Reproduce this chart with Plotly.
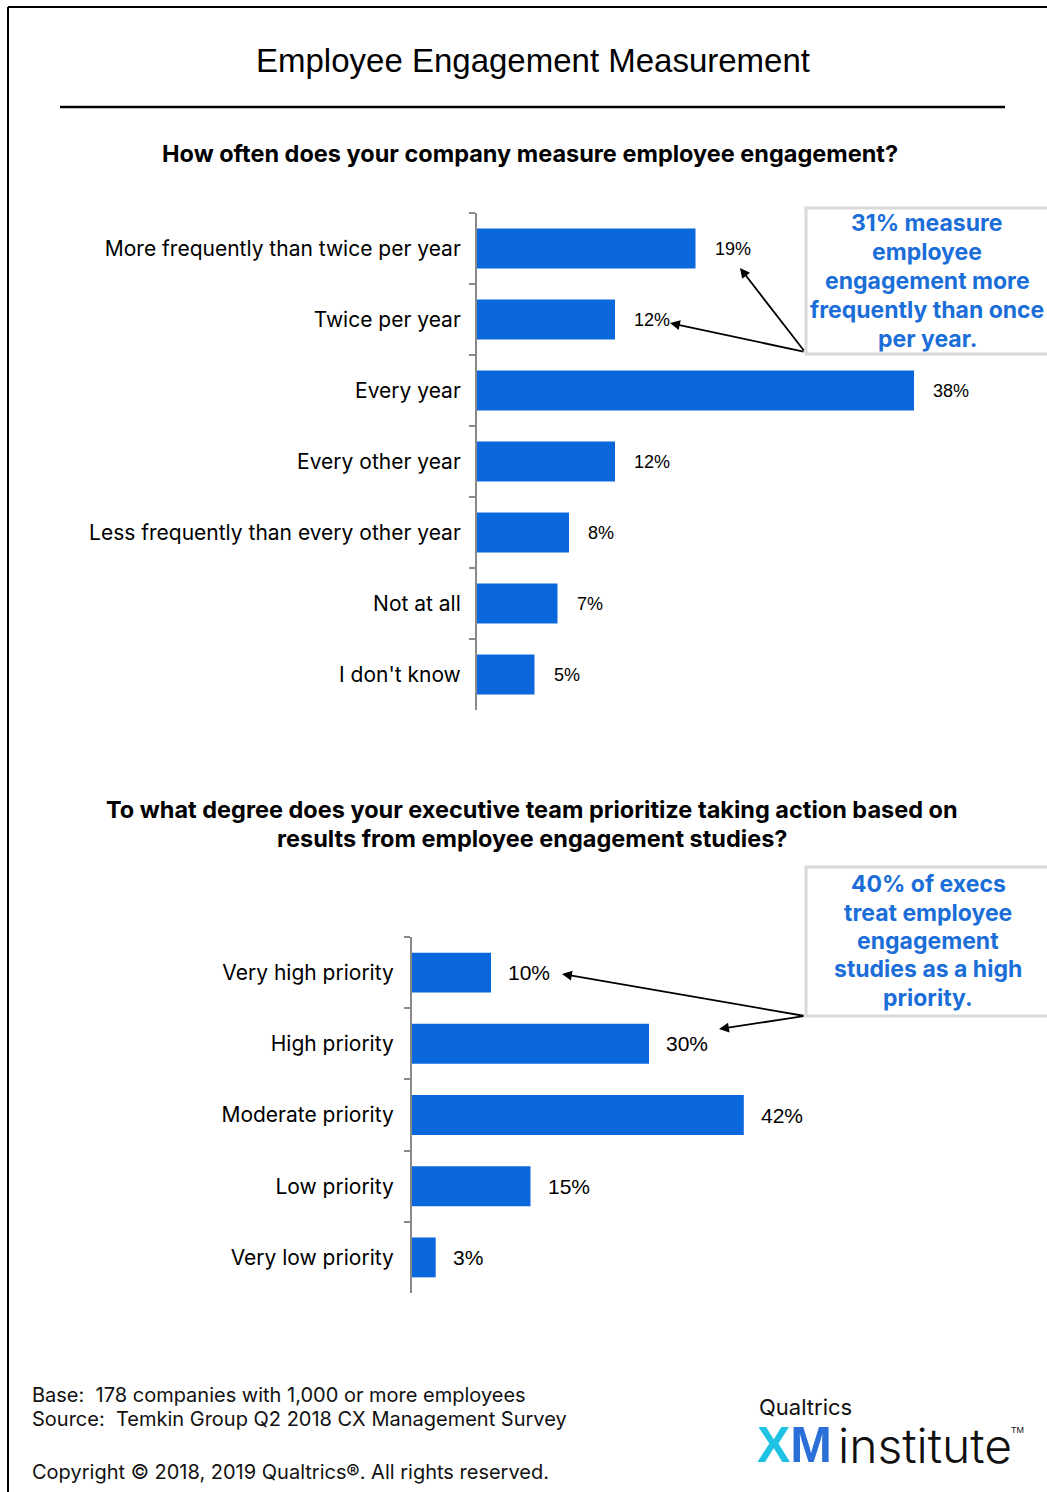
import plotly.graph_objects as go

W, H = 1047, 1492

# Question 1: measurement frequency
freq_labels = [
    "More frequently than twice per year",
    "Twice per year",
    "Every year",
    "Every other year",
    "Less frequently than every other year",
    "Not at all",
    "I don't know",
]
freq_values = [19, 12, 38, 12, 8, 7, 5]

# Question 2: executive prioritization
prio_labels = [
    "Very high priority",
    "High priority",
    "Moderate priority",
    "Low priority",
    "Very low priority",
]
prio_values = [10, 30, 42, 15, 3]

callout_1 = ["31% measure", "employee", "engagement more", "frequently than once", "per year."]
callout_2 = ["40% of execs", "treat employee", "engagement", "studies as a high", "priority."]

BAR = "#0a68dc"
AXIS = "#8a8a8a"
CALLOUT = "#1b6ed8"
ARIAL = "Liberation Sans, Arial, sans-serif"
SANS = "Inter, Liberation Sans, sans-serif"


def px(x):
    return x / W


def py(y):
    return 1 - y / H


fig = go.Figure()
fig.add_trace(go.Bar(
    x=freq_values, y=freq_labels, orientation="h",
    marker=dict(color=BAR, line=dict(width=0)),
    xaxis="x", yaxis="y", hoverinfo="skip",
))
fig.add_trace(go.Bar(
    x=prio_values, y=prio_labels, orientation="h",
    marker=dict(color=BAR, line=dict(width=0)),
    xaxis="x2", yaxis="y2", hoverinfo="skip",
))

yaxis_common = dict(
    type="category", autorange="reversed",
    showline=True, linecolor=AXIS, linewidth=2,
    ticks="outside", tickson="boundaries", ticklen=6, tickwidth=2, tickcolor=AXIS,
    showgrid=False, zeroline=False,
    tickfont=dict(family=SANS, size=21, color="#000"),
)
xaxis_common = dict(visible=False, showgrid=False, zeroline=False)

fig.update_layout(
    width=W, height=H,
    margin=dict(l=0, r=0, t=0, b=0),
    paper_bgcolor="white", plot_bgcolor="white",
    showlegend=False,
    bargap=0.44,
    font=dict(family=SANS, color="#000"),
    xaxis=dict(domain=[px(477), 1.0], range=[0, 570 / 11.5], **xaxis_common),
    yaxis=dict(domain=[py(710), py(213)], anchor="x", ticklabelstandoff=10, **yaxis_common),
    xaxis2=dict(domain=[px(412), 1.0], range=[0, 635 / 7.9], anchor="y2", **xaxis_common),
    yaxis2=dict(domain=[py(1293), py(937)], anchor="x2", ticklabelstandoff=12, **yaxis_common),
)

ann = []


def text_at(x, y, text, size, family=SANS, color="#000", xanchor="center", **extra):
    font = dict(size=size, family=family, color=color)
    font.update(extra.pop("font_extra", {}))
    ann.append(dict(x=px(x), y=py(y), xref="paper", yref="paper", showarrow=False,
                    xanchor=xanchor, yanchor="middle", text=text, font=font, **extra))


# Value labels next to each bar
for lab, v in zip(freq_labels, freq_values):
    ann.append(dict(x=v, y=lab, xref="x", yref="y", text=f"{v}%", showarrow=False,
                    xanchor="left", yanchor="middle", xshift=17,
                    font=dict(size=18, family=ARIAL)))
for lab, v in zip(prio_labels, prio_values):
    ann.append(dict(x=v, y=lab, xref="x2", yref="y2", text=f"{v}%", showarrow=False,
                    xanchor="left", yanchor="middle", xshift=15,
                    font=dict(size=21, family=ARIAL)))

# Titles
text_at(533, 61, "Employee Engagement Measurement", 33, family=ARIAL)
text_at(530, 154, "<b>How often does your company measure employee engagement?</b>", 23.5)
text_at(532, 809, "<b>To what degree does your executive team prioritize taking action based on</b>", 23.5)
text_at(532, 838, "<b>results from employee engagement studies?</b>", 23.5)

# Callout texts, one line each
for i, line in enumerate(callout_1):
    text_at(927, 223 + 29 * i, f"<b>{line}</b>", 23, color=CALLOUT)
for i, line in enumerate(callout_2):
    text_at(928, 884 + 28.5 * i, f"<b>{line}</b>", 23, color=CALLOUT)

# Arrows from the callout boxes to the value labels
for (tx, ty), (hx, hy) in [
    ((805, 352), (740, 268)),
    ((805, 352), (670, 323)),
    ((805, 1016), (562, 974)),
    ((805, 1016), (719, 1029)),
]:
    ann.append(dict(x=px(hx), y=py(hy), xref="paper", yref="paper", text="",
                    showarrow=True, axref="pixel", ayref="pixel",
                    ax=tx - hx, ay=ty - hy, arrowhead=2, arrowsize=1.1,
                    arrowwidth=1.8, arrowcolor="#000"))

# Footer
text_at(30, 1395, "Base:\u00a0\u00a0178 companies with 1,000 or more employees", 20, color="#111", xanchor="left")
text_at(30, 1419, "Source:\u00a0\u00a0Temkin Group Q2 2018 CX Management Survey", 20, color="#111", xanchor="left")
text_at(30, 1472, "Copyright © 2018, 2019 Qualtrics®. All rights reserved.", 20, color="#111", xanchor="left")

# Logo
text_at(757, 1407, "Qualtrics", 22, color="#111", xanchor="left")
text_at(755, 1445, "<b><span style='color:#1ec3e4'>X</span><span style='color:#2a6fd8'>M</span></b>",
        50, family=ARIAL, xanchor="left")
text_at(836, 1445, "institute", 48, color="#111", xanchor="left", font_extra=dict(weight=300))
text_at(1009, 1430, "TM", 9, family=ARIAL, color="#111", xanchor="left")

fig.update_layout(annotations=ann)

shapes = [
    # page frame
    dict(type="line", xref="paper", yref="paper", x0=px(8), x1=1.02, y0=py(7), y1=py(7),
         line=dict(color="#000", width=2)),
    dict(type="line", xref="paper", yref="paper", x0=px(8), x1=px(8), y0=py(7), y1=-0.02,
         line=dict(color="#000", width=2)),
    # rule under the title
    dict(type="line", xref="paper", yref="paper", x0=px(60), x1=px(1005), y0=py(107), y1=py(107),
         line=dict(color="#000", width=2.5)),
    # callout boxes
    dict(type="rect", xref="paper", yref="paper", x0=px(806), x1=1.05, y0=py(354), y1=py(208),
         line=dict(color="#d9d9d9", width=3), fillcolor="rgba(0,0,0,0)"),
    dict(type="rect", xref="paper", yref="paper", x0=px(806), x1=1.05, y0=py(1016), y1=py(867),
         line=dict(color="#d9d9d9", width=3), fillcolor="rgba(0,0,0,0)"),
]
fig.update_layout(shapes=shapes)

fig.write_html("out.html")
